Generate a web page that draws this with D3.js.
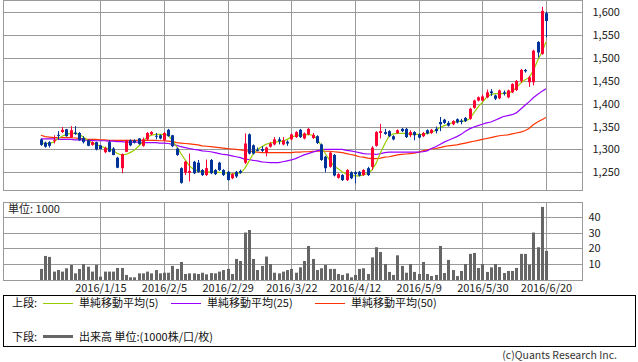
<!DOCTYPE html>
<html>
<head>
<meta charset="utf-8">
<script src="https://cdn.jsdelivr.net/npm/d3@7"></script>
<style>
body { margin: 0; background: #fff; }
text { font-family: "Noto Sans CJK JP", "Noto Sans", sans-serif; }
</style>
</head>
<body>
<div id="chart"></div>
<script>
// tick labels every 15 sessions
var tickLabels = ["2016/1/15", "2016/2/5", "2016/2/29", "2016/3/22", "2016/4/12", "2016/5/9", "2016/5/30", "2016/6/20"];
var tickIndex = [14, 29, 44, 59, 74, 89, 104, 119];

var open  = [1322,1315,1316,1318,1332,1338,1344,1327,1337,1336,1325,1320,1310,1316,1309,1294,1316,1302,1282,1259,
             1295,1320,1320,1324,1308,1322,1333,1330,1331,1320,1343,1331,1302,1259,1249,1249,1273,1271,1255,1244,
             1277,1255,1271,1255,1251,1237,1251,1253,1271,1333,1309,1299,1301,1293,1306,1311,1322,1311,1317,1322,
             1327,1343,1324,1333,1325,1329,1311,1284,1262,1288,1238,1244,1233,1250,1250,1251,1244,1259,1262,1308,
             1336,1338,1340,1329,1336,1345,1345,1331,1338,1333,1329,1342,1336,1345,1360,1365,1358,1355,1366,1363,
             1369,1367,1391,1407,1407,1414,1427,1418,1412,1425,1414,1425,1430,1450,1474,1447,1447,1535,1509,1598];
var high  = [1324,1317,1318,1331,1340,1349,1345,1351,1351,1338,1329,1321,1318,1317,1310,1306,1320,1305,1284,1291,
             1321,1322,1322,1325,1326,1338,1340,1336,1333,1338,1345,1332,1304,1261,1275,1291,1275,1277,1257,1278,
             1279,1257,1273,1257,1253,1248,1253,1256,1335,1335,1311,1304,1307,1306,1316,1327,1327,1327,1320,1335,
             1340,1345,1337,1347,1336,1331,1313,1286,1295,1290,1248,1246,1257,1252,1252,1253,1257,1262,1307,1340,
             1356,1345,1342,1331,1344,1347,1347,1342,1340,1335,1338,1344,1345,1350,1371,1367,1362,1364,1368,1367,
             1371,1391,1409,1416,1420,1431,1432,1420,1431,1429,1431,1445,1452,1476,1476,1461,1518,1537,1612,1601];
var low   = [1308,1304,1304,1313,1322,1336,1328,1326,1332,1319,1313,1307,1308,1298,1300,1292,1294,1287,1259,1248,
             1294,1307,1313,1310,1306,1320,1331,1322,1322,1318,1328,1305,1286,1225,1244,1230,1246,1249,1242,1242,
             1246,1244,1253,1242,1232,1235,1238,1247,1268,1289,1289,1296,1294,1285,1304,1309,1311,1309,1308,1320,
             1325,1325,1322,1331,1323,1312,1275,1250,1260,1241,1236,1231,1231,1235,1226,1241,1242,1242,1255,1306,
             1324,1332,1327,1320,1334,1338,1325,1327,1320,1324,1327,1333,1334,1335,1340,1356,1350,1353,1357,1355,
             1360,1365,1389,1405,1405,1412,1417,1408,1410,1418,1412,1423,1428,1446,1468,1437,1440,1501,1507,1545];
var close = [1310,1306,1308,1320,1330,1343,1329,1342,1334,1320,1316,1308,1316,1300,1301,1303,1295,1288,1260,1290,
             1320,1309,1315,1312,1322,1336,1338,1328,1324,1336,1329,1307,1288,1227,1273,1253,1248,1251,1244,1259,
             1248,1246,1255,1244,1233,1246,1241,1249,1313,1291,1291,1298,1297,1304,1313,1322,1318,1320,1313,1333,
             1338,1327,1335,1345,1332,1314,1277,1259,1293,1243,1246,1233,1255,1237,1246,1243,1255,1244,1304,1338,
             1340,1334,1329,1322,1342,1340,1327,1338,1331,1326,1336,1335,1343,1340,1355,1358,1352,1362,1359,1360,
             1362,1389,1407,1414,1416,1425,1423,1411,1429,1422,1429,1443,1450,1474,1471,1458,1516,1512,1603,1581];

var volume = [7.0,15.2,14.6,5.3,6.3,5.3,7.4,9.5,4.2,7.0,10.1,8.4,5.3,9.5,2.1,5.3,5.3,5.3,7.6,7.6,
              3.2,1.7,1.7,4.2,4.2,5.3,4.2,6.3,4.2,4.6,4.6,8.9,7.0,11.4,3.8,4.2,4.2,3.8,4.6,3.6,
              4.4,4.2,5.3,6.3,7.0,3.8,13.3,12.0,30.0,31.6,13.3,6.3,8.9,14.8,10.1,4.6,4.2,5.3,6.3,7.0,
              4.6,8.0,12.0,21.5,13.3,6.3,7.4,9.5,7.0,7.0,3.8,3.2,4.2,1.7,3.2,7.0,7.4,3.8,14.3,20.7,
              17.7,10.1,5.1,3.2,15.6,8.9,4.6,10.1,5.1,3.8,11.4,3.8,2.5,3.2,21.5,4.4,12.7,6.3,2.5,5.7,
              10.1,16.5,17.1,7.6,10.1,5.1,8.0,10.1,8.2,4.4,5.7,5.7,7.6,16.5,16.5,9.7,30.0,20.7,46.2,18.4];

var ma5  = [1315,1313,1313,1316,1324,1329,1333,1335,1335,1333,1327,1320,1315,1311,1307,1304,1302,1298,1291,1288,
            1289,1293,1298,1307,1316,1327,1331,1333,1333,1333,1331,1320,1306,1291,1277,1264,1256,1253,1251,1251,
            1251,1251,1250,1249,1248,1246,1248,1248,1258,1274,1290,1300,1306,1311,1314,1316,1317,1318,1322,1327,
            1330,1332,1332,1333,1331,1324,1309,1291,1277,1264,1258,1251,1246,1244,1242,1242,1244,1248,1255,1270,
            1293,1312,1329,1334,1335,1335,1335,1333,1333,1333,1333,1335,1337,1342,1348,1352,1355,1359,1361,1362,
            1362,1367,1380,1393,1403,1414,1420,1422,1422,1422,1423,1427,1435,1445,1452,1457,1472,1494,1512,1535];
var ma25 = [1323,1323,1323,1323,1322,1322,1322,1322,1321,1321,1321,1320,1320,1319,1319,1319,1318,1318,1317,1317,
            1316,1316,1316,1316,1315,1315,1315,1315,1314,1314,1313,1311,1309,1306,1304,1302,1300,1299,1297,1296,
            1295,1293,1291,1289,1288,1286,1284,1282,1279,1278,1276,1275,1273,1272,1271,1271,1271,1273,1275,1277,
            1280,1284,1288,1291,1294,1297,1299,1300,1300,1300,1300,1300,1298,1297,1295,1293,1291,1290,1290,1289,
            1291,1293,1294,1294,1294,1294,1294,1294,1294,1294,1295,1297,1302,1306,1311,1316,1320,1324,1328,1333,
            1340,1345,1349,1352,1355,1358,1360,1364,1368,1372,1374,1376,1380,1388,1396,1404,1413,1420,1427,1433];
var ma50 = [1331,1328,1327,1326,1326,1326,1326,1326,1325,1324,1323,1322,1322,1322,1321,1321,1320,1320,1320,1320,
            1320,1320,1320,1320,1320,1320,1320,1320,1319,1319,1318,1317,1315,1314,1313,1312,1311,1310,1308,1307,
            1306,1305,1304,1303,1302,1301,1300,1299,1298,1296,1295,1294,1293,1293,1293,1293,1293,1293,1293,1293,
            1294,1294,1295,1295,1296,1296,1296,1296,1296,1295,1294,1293,1291,1289,1287,1284,1283,1281,1280,1280,
            1281,1283,1284,1286,1288,1289,1290,1291,1292,1294,1297,1299,1301,1302,1304,1306,1308,1309,1310,1312,
            1314,1316,1318,1320,1322,1324,1326,1328,1330,1331,1332,1334,1336,1338,1341,1346,1354,1360,1365,1370];

var priceTicks = [1250, 1300, 1350, 1400, 1450, 1500, 1550, 1600];
var volTicks = [10, 20, 30, 40];

var W = 638, H = 362;
var left = 3.5, right = 582.5;
var top1 = 0.5, bot1 = 190.5, top2 = 202.5, bot2 = 280.5;
var up = "#ff0033", down = "#003399", grid = "#999999";

var svg = d3.select("#chart").append("svg")
    .attr("width", W)
    .attr("height", H);

var x = d3.scaleLinear().domain([0, open.length - 1]).range([40.9, 546]);
var y = d3.scaleLinear().domain([1250, 1600]).range([172.3, 12.3]);
var yv = d3.scaleLinear().domain([0, 40]).range([280, 216.7]);

function px(v) { return Math.round(v) + 0.5; }

// grids
var g = svg.append("g").attr("stroke", grid).attr("stroke-width", 1).attr("fill", "none");
g.selectAll(".hp").data(priceTicks).enter().append("line")
    .attr("x1", left).attr("x2", right)
    .attr("y1", function(d) { return px(y(d)); })
    .attr("y2", function(d) { return px(y(d)); });
g.selectAll(".hv").data(volTicks).enter().append("line")
    .attr("x1", left).attr("x2", right)
    .attr("y1", function(d) { return px(yv(d)); })
    .attr("y2", function(d) { return px(yv(d)); });
g.selectAll(".vp").data(tickIndex).enter().append("line")
    .attr("x1", function(d) { return px(x(d)); })
    .attr("x2", function(d) { return px(x(d)); })
    .attr("y1", top1).attr("y2", bot1);
g.selectAll(".vv").data(tickIndex).enter().append("line")
    .attr("x1", function(d) { return px(x(d)); })
    .attr("x2", function(d) { return px(x(d)); })
    .attr("y1", top2).attr("y2", bot2);
g.append("rect").attr("x", left).attr("y", top1).attr("width", right - left).attr("height", bot1 - top1);
g.append("rect").attr("x", left).attr("y", top2).attr("width", right - left).attr("height", bot2 - top2);

// volume bars
svg.append("g").selectAll("rect").data(volume).enter().append("rect")
    .attr("x", function(d, i) { return Math.round(x(i)) - 1; })
    .attr("y", function(d) { return yv(d); })
    .attr("width", 3)
    .attr("height", function(d) { return 280 - yv(d); })
    .attr("fill", "#666666");

// moving averages
var line = d3.line()
    .x(function(d, i) { return x(i); })
    .y(function(d) { return y(d); });
[[ma50, "#ff3300"], [ma25, "#9900ff"], [ma5, "#99cc00"]].forEach(function(s) {
    svg.append("path")
        .attr("d", line(s[0]))
        .attr("fill", "none")
        .attr("stroke", s[1])
        .attr("stroke-width", 1.2);
});

// candles
var candle = svg.append("g").selectAll("g").data(open).enter().append("g")
    .attr("fill", function(d, i) { return close[i] >= open[i] ? up : down; })
    .attr("stroke", function(d, i) { return close[i] >= open[i] ? up : down; });
candle.append("line")
    .attr("x1", function(d, i) { return px(x(i)); })
    .attr("x2", function(d, i) { return px(x(i)); })
    .attr("y1", function(d, i) { return y(high[i]); })
    .attr("y2", function(d, i) { return y(low[i]); })
    .attr("stroke-width", 1);
candle.append("rect")
    .attr("stroke", "none")
    .attr("x", function(d, i) { return Math.round(x(i)) - 1; })
    .attr("width", 3)
    .attr("y", function(d, i) { return y(Math.max(open[i], close[i])); })
    .attr("height", function(d, i) { return Math.max(1, Math.abs(y(open[i]) - y(close[i]))); });

// axes
var axisP = d3.axisRight(y).tickValues(priceTicks).tickSize(0).tickPadding(10)
    .tickFormat(d3.format(","));
svg.append("g").attr("transform", "translate(" + right + ",0)").call(axisP)
    .call(function(a) { a.select(".domain").remove(); })
    .selectAll("text").attr("font-size", 11).attr("fill", "#222")
    .attr("font-family", "Noto Sans CJK JP");
var axisV = d3.axisRight(yv).tickValues(volTicks).tickSize(0).tickPadding(6);
svg.append("g").attr("transform", "translate(" + right + ",0)").call(axisV)
    .call(function(a) { a.select(".domain").remove(); })
    .selectAll("text").attr("font-size", 11).attr("fill", "#222")
    .attr("font-family", "Noto Sans CJK JP");

var axisX = d3.axisBottom(x).tickValues(tickIndex).tickSize(0).tickPadding(3)
    .tickFormat(function(d, i) { return tickLabels[i]; });
svg.append("g").attr("transform", "translate(0," + 281 + ")").call(axisX)
    .call(function(a) { a.select(".domain").remove(); })
    .selectAll("text").attr("font-size", 11).attr("fill", "#222")
    .attr("font-family", "Noto Sans CJK JP");

svg.append("text").attr("x", 8).attr("y", 213).attr("font-size", 11).attr("fill", "#222")
    .text("単位: 1000");

// legend
svg.append("rect").attr("x", 3.5).attr("y", 295.5).attr("width", 632).attr("height", 51)
    .attr("fill", "none").attr("stroke", "#000").attr("stroke-width", 1);
var leg = svg.append("g").attr("font-size", 11).attr("fill", "#111");
leg.append("text").attr("x", 12).attr("y", 307).text("上段:");
leg.append("text").attr("x", 12).attr("y", 341).text("下段:");
var items = [
    {x: 43, c: "#99cc00", t: "単純移動平均(5)"},
    {x: 171, c: "#9900ff", t: "単純移動平均(25)"},
    {x: 315, c: "#ff3300", t: "単純移動平均(50)"}
];
items.forEach(function(d) {
    leg.append("line").attr("x1", d.x).attr("x2", d.x + 30).attr("y1", 303.5).attr("y2", 303.5)
        .attr("stroke", d.c).attr("stroke-width", 1);
    leg.append("text").attr("x", d.x + 36).attr("y", 307).text(d.t);
});
leg.append("line").attr("x1", 43).attr("x2", 73).attr("y1", 336.5).attr("y2", 336.5)
    .attr("stroke", "#666").attr("stroke-width", 3);
leg.append("text").attr("x", 79).attr("y", 341).text("出来高 単位:(1000株/口/枚)");

svg.append("text").attr("x", 617).attr("y", 359).attr("text-anchor", "end")
    .attr("font-size", 10.5).attr("fill", "#333").text("(c)Quants Research Inc.");
</script>
</body>
</html>
